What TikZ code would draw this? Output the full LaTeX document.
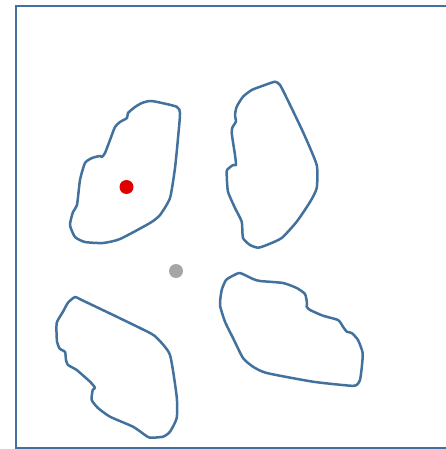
\documentclass[tikz,border=0pt]{standalone}
\begin{document}
\begin{tikzpicture}[x=1pt,y=-1pt,
  blob/.style={draw=blobblue,line width=2.5pt,line join=round},
  dotstyle/.style={circle,inner sep=0pt,minimum size=14pt}]
\definecolor{blobblue}{HTML}{41719C}
\definecolor{dotred}{HTML}{E00000}
\definecolor{dotgray}{HTML}{A6A6A6}
\useasboundingbox (0,0) rectangle (446,449);
\node[draw=blobblue,line width=2pt,inner sep=0pt,minimum width=431pt,minimum height=442pt,anchor=north west] (frame) at (15,5) {};
% blob 1
\draw[blob] plot[smooth cycle,tension=0.35] coordinates {
(151.7,101) (176.7,106.7) (180,113.3) (178.3,135) (175,168) (170,198) (160,215) (150,223)
(120,239) (103,243) (85,242) (75,237) (70,225) (73,212) (77,205) (80,180) (85,163) (92,158)
(100,156) (102,157) (105,153) (110,140) (115,127) (120,122) (127,118) (128,113) (135,107) (142,103)};
% blob 2
\draw[blob] plot[smooth cycle,tension=0.35] coordinates {
(275,81.7) (280,85) (286.7,98) (303,132) (316.7,165) (316.7,188) (310,202) (296.7,221.7)
(281.7,238) (266.7,245) (258,247.7) (250,245) (243,238) (241.7,221.7) (235,208) (228,191.7)
(226.7,175) (227,170) (233,165) (236,165) (235,155) (231.7,133) (232.7,126.7) (236,121.7)
(235,115) (236.7,106.7) (243,96.7) (251.7,90) (263,85.7)};
% blob 3
\draw[blob] plot[smooth cycle,tension=0.35] coordinates {
(75,297) (81.7,300) (116.7,316.7) (150,333) (158,339) (170,355) (176.7,396.7) (176.7,418)
(170,431.7) (163,436.7) (150,437.7) (145,435) (133,426.7) (110,416.7) (98,408) (91.7,400)
(92.7,390) (95,387.7) (90,381.7) (76.7,370) (68,365) (66,360) (65,351.7) (60,349) (57,341.7)
(56.7,323) (63,311.7) (68,302.7)};
% blob 4
\draw[blob] plot[smooth cycle,tension=0.35] coordinates {
(240,273) (253,279) (260,281) (283,283) (296.7,288) (305,294) (307,303) (306.7,306.7)
(310,310) (323,315.7) (338,320) (343,326.7) (346.7,331.7) (351.7,333) (358,340) (362.7,353)
(361.7,368) (360,380) (356.7,385) (350,385.7) (313,381.7) (266.7,373) (253,366.7) (243,358)
(233,338) (225,321.7) (220,305) (221.7,290) (226,280) (233,275.7)};
\node[dotstyle,fill=dotred] (reddot) at (126.5,187) {};
\node[dotstyle,fill=dotgray] (graydot) at (176,271) {};
\end{tikzpicture}
\end{document}
